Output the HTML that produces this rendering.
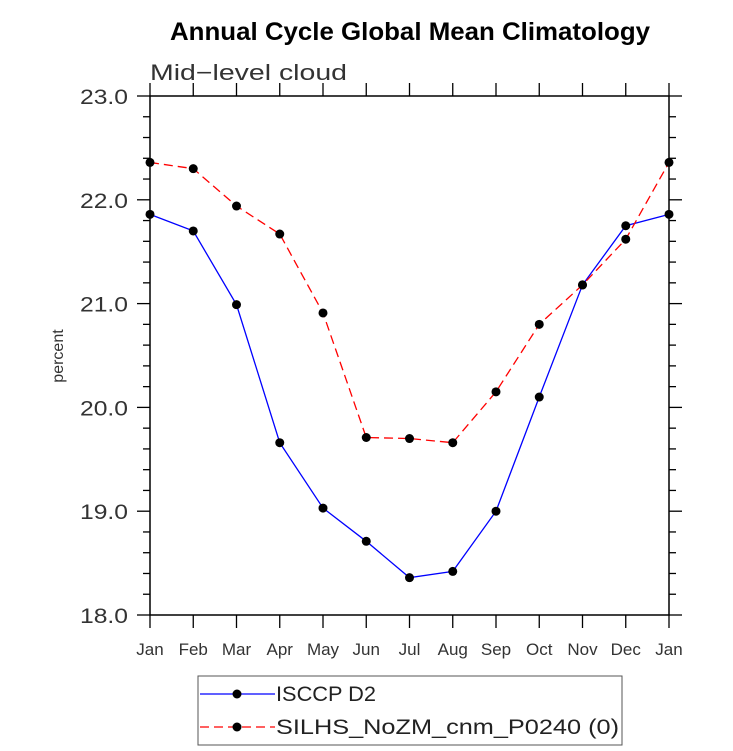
<!DOCTYPE html>
<html><head><meta charset="utf-8"><style>body{margin:0;background:#fff}svg{display:block}</style></head>
<body>
<svg id="c" width="733" height="751" font-family="'Liberation Sans', sans-serif">
<text x="410" y="40" text-anchor="middle" font-size="25" font-weight="bold" textLength="480" lengthAdjust="spacingAndGlyphs">Annual Cycle Global Mean Climatology</text>
<text x="150" y="80" font-size="22" fill="#333" textLength="197" lengthAdjust="spacingAndGlyphs">Mid−level cloud</text>
<text transform="translate(63,356) rotate(-90)" text-anchor="middle" font-size="16" fill="#333">percent</text>
<g id="ax"></g><g id="series"></g>
<rect x="198" y="676" width="424" height="69" fill="none" stroke="#555" stroke-width="1"/>
<g>
<line x1="200" y1="694" x2="275" y2="694" stroke="#0000ff" stroke-width="1.3"/><circle cx="237" cy="694" r="4.5"/>
<text x="276" y="701" font-size="21" fill="#222" textLength="100" lengthAdjust="spacingAndGlyphs">ISCCP D2</text></g>
<g>
<line x1="200" y1="727" x2="275" y2="727" stroke="#ff0000" stroke-width="1.3" stroke-dasharray="9,5"/><circle cx="237" cy="727" r="4.5"/>
<text x="276" y="734" font-size="21" fill="#222" textLength="343" lengthAdjust="spacingAndGlyphs">SILHS_NoZM_cnm_P0240 (0)</text></g>
</svg>
<script>
const months=["Jan","Feb","Mar","Apr","May","Jun","Jul","Aug","Sep","Oct","Nov","Dec","Jan"];
const isccp=[21.86,21.70,20.99,19.66,19.03,18.71,18.36,18.42,19.00,20.10,21.18,21.75,21.86];
const silhs=[22.36,22.30,21.94,21.67,20.91,19.71,19.70,19.66,20.15,20.80,21.18,21.62,22.36];
const yTicks=[18.0,19.0,20.0,21.0,22.0,23.0];
const L=150,R=669,T=96,B=615,ymin=18,ymax=23;
const X=i=>L+(R-L)*i/(months.length-1);
const Y=v=>B-(B-T)*(v-ymin)/(ymax-ymin);
const NS="http://www.w3.org/2000/svg";
function mk(tag,at,parent){const e=document.createElementNS(NS,tag);for(const k in at)e.setAttribute(k,at[k]);parent.appendChild(e);return e;}
const ax=document.getElementById('ax');
const fr=mk('rect',{x:L,y:T,width:R-L,height:B-T,fill:'none',stroke:'#000','stroke-width':1.5},ax);


months.forEach((m,i)=>{const x=X(i);
mk('line',{x1:x,y1:B,x2:x,y2:B+13,stroke:'#000','stroke-width':1.3},ax);
mk('line',{x1:x,y1:T,x2:x,y2:T-13,stroke:'#000','stroke-width':1.3},ax);
const t=mk('text',{x:x,y:B+40,'text-anchor':'middle','font-size':17,fill:'#333'},ax);t.textContent=m;

});
for(let v=ymin;v<=ymax+1e-9;v+=0.2){const y=Y(v);const maj=Math.abs(v-Math.round(v))<1e-6;const len=maj?13:7;
mk('line',{x1:L-len,y1:y,x2:L,y2:y,stroke:'#000','stroke-width':1.3},ax);
mk('line',{x1:R,y1:y,x2:R+len,y2:y,stroke:'#000','stroke-width':1.3},ax);}
yTicks.forEach(v=>{const t=mk('text',{x:L-22,y:Y(v)+8,'text-anchor':'end','font-size':21,fill:'#333',textLength:48,lengthAdjust:'spacingAndGlyphs'},ax);t.textContent=v.toFixed(1);

});
const sg=document.getElementById('series');
function series(d,col,dash,name){const g=mk('g',{},sg);


mk('polyline',{points:d.map((v,i)=>X(i)+','+Y(v)).join(' '),fill:'none',stroke:col,'stroke-width':1.3,'stroke-dasharray':dash},g);
d.forEach((v,i)=>{const c=mk('circle',{cx:X(i),cy:Y(v),r:4.5,fill:'#000'},g);

});}
series(isccp,'#0000ff','none','series-isccp');
series(silhs,'#ff0000','9,5','series-silhs');
</script>
</body></html>
